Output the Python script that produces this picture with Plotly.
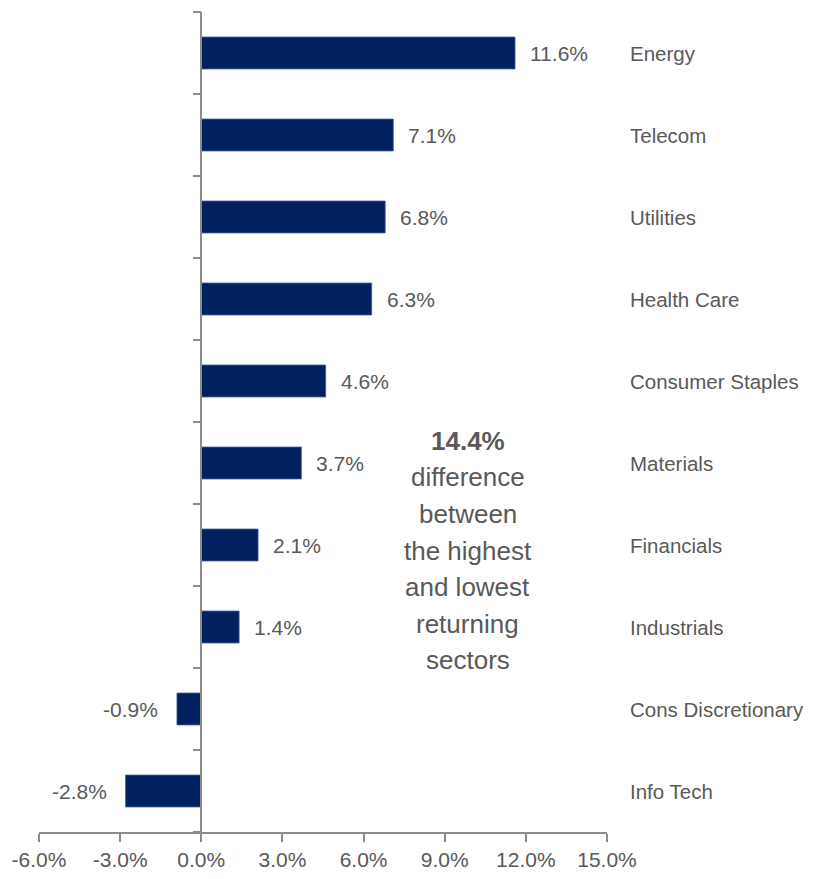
import plotly.graph_objects as go

sectors = ["Energy", "Telecom", "Utilities", "Health Care", "Consumer Staples",
           "Materials", "Financials", "Industrials", "Cons Discretionary", "Info Tech"]
returns = [11.6, 7.1, 6.8, 6.3, 4.6, 3.7, 2.1, 1.4, -0.9, -2.8]
x_tick_values = [-6, -3, 0, 3, 6, 9, 12, 15]
x_tick_labels = ["-6.0%", "-3.0%", "0.0%", "3.0%", "6.0%", "9.0%", "12.0%", "15.0%"]
note_lines = ["<b>14.4%</b>", "difference", "between", "the highest",
              "and lowest", "returning", "sectors"]

FONT = "Liberation Sans, Arial, sans-serif"
GRAY_TXT = "#595959"
GRAY_AX = "#8c8c8c"
NAVY = "#002060"

# page body has an 8px default margin; compensate so the chart lands where the reference does
PAGE_OFF = 8
W, H = 819 - PAGE_OFF, 879 - PAGE_OFF
plot_left, plot_right, plot_top, plot_bottom = 39, 607, 12, 832  # in window pixels

fig = go.Figure()
fig.add_trace(go.Bar(
    x=returns, y=sectors, orientation="h",
    marker=dict(color=NAVY, line=dict(color="#4a6797", width=0.8)),
    hoverinfo="skip",
))

annotations = []
for s, v in zip(sectors, returns):
    annotations.append(dict(
        x=v, y=s, xref="x", yref="y", text=f"{v:.1f}%", showarrow=False,
        xanchor="left" if v >= 0 else "right", xshift=13 if v >= 0 else -17,
        font=dict(family=FONT, size=21, color=GRAY_TXT)))
    annotations.append(dict(
        x=1, y=s, xref="paper", yref="y", text=s, showarrow=False,
        xanchor="left", xshift=21,
        font=dict(family=FONT, size=20.5, color=GRAY_TXT)))

line_y0, line_step = 441, 36.5
for i, t in enumerate(note_lines):
    ypx = line_y0 + i * line_step
    annotations.append(dict(
        x=9.85, y=(plot_bottom - ypx) / (plot_bottom - plot_top), xref="x", yref="paper",
        text=t, showarrow=False, xanchor="center", yanchor="middle",
        font=dict(family=FONT, size=26, color=GRAY_TXT)))

fig.update_layout(
    width=W, height=H,
    margin=dict(l=plot_left - PAGE_OFF, r=W - (plot_right - PAGE_OFF),
                t=plot_top - PAGE_OFF, b=H - (plot_bottom - PAGE_OFF)),
    paper_bgcolor="white", plot_bgcolor="white",
    showlegend=False, bargap=0.61,
    annotations=annotations,
    xaxis=dict(
        range=[-6, 15], tickvals=x_tick_values, ticktext=x_tick_labels,
        automargin=False,
        showgrid=False, zeroline=False,
        showline=True, linecolor=GRAY_AX, linewidth=1.5,
        ticks="outside", ticklen=8, tickwidth=1.5, tickcolor=GRAY_AX,
        tickfont=dict(family=FONT, size=21, color=GRAY_TXT),
    ),
    yaxis=dict(
        categoryorder="array", categoryarray=sectors[::-1],
        anchor="free", position=6 / 21, automargin=False,
        showgrid=False, zeroline=False, showticklabels=False,
        showline=True, linecolor=GRAY_AX, linewidth=1.5,
        ticks="outside", tickson="boundaries", ticklen=8, tickwidth=1.5, tickcolor=GRAY_AX,
    ),
)

fig.write_html("out.html")
